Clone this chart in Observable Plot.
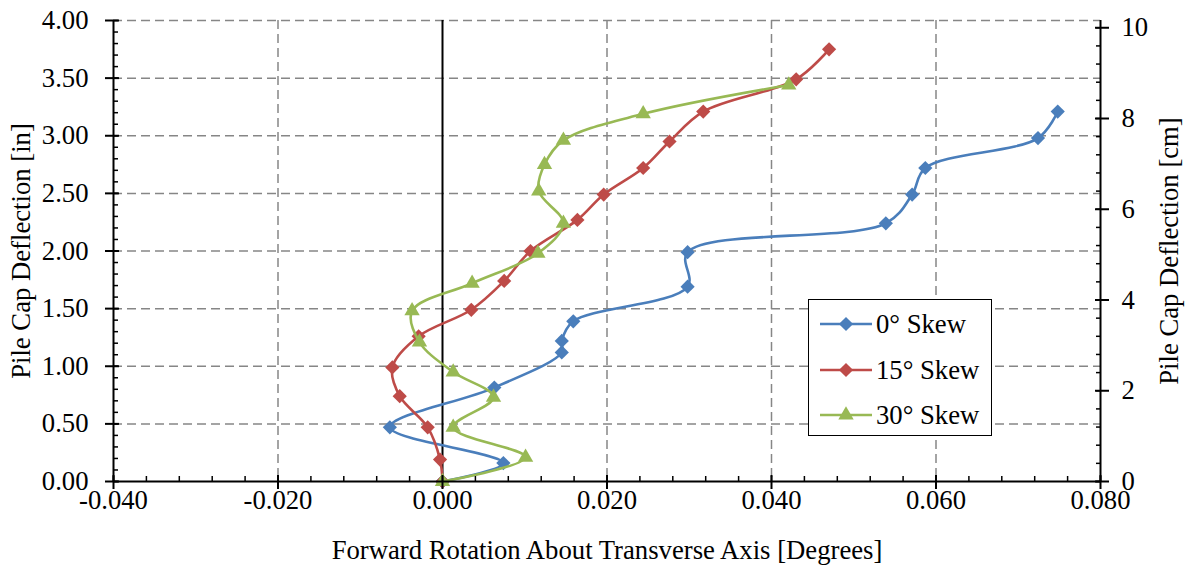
<!DOCTYPE html>
<html><head><meta charset="utf-8">
<script src="https://cdn.jsdelivr.net/npm/d3@7"></script>
<script src="https://cdn.jsdelivr.net/npm/@observablehq/plot@0.6"></script>
<style>
body{margin:0;background:#fff;}
#wrap{position:relative;width:1190px;height:569px;font-family:"Liberation Serif","Times New Roman","DejaVu Serif",serif;}
#wrap svg text{font-family:"Liberation Serif","Times New Roman","DejaVu Serif",serif !important;}
#legend{position:absolute;left:808px;top:299px;width:182px;height:135px;border:1.5px solid #000;background:#fff;box-sizing:content-box;}
.li{position:absolute;left:0;height:30px;display:flex;align-items:center;font-size:26.7px;color:#000;font-family:"Liberation Serif","Times New Roman","DejaVu Serif",serif;}
.li svg{margin-left:11px;margin-right:4px;}
</style></head><body><div id="wrap"></div>
<script>
// series names / colours / marker symbols
const seriesNames = ["0° Skew", "15° Skew", "30° Skew"];
const seriesColors = ["#4A7EBB", "#BE4B48", "#98B954"];
const seriesSymbols = ["diamond2", "diamond2", "triangle"];
const markerR = [6.4, 6.4, 5.7];

// 0° Skew: rotation [deg], deflection [in]
const rot0 = [0, 0.0074, -0.0064, 0.0063, 0.0145, 0.0145, 0.0159, 0.0298, 0.0298, 0.0539, 0.0571, 0.0587, 0.0724, 0.0748];
const def0 = [0, 0.16, 0.47, 0.815, 1.12, 1.22, 1.39, 1.69, 1.99, 2.24, 2.49, 2.72, 2.98, 3.21];
// 15° Skew
const rot15 = [0, -0.0003, -0.0018, -0.0052, -0.0061, -0.0029, 0.0035, 0.0075, 0.0107, 0.0164, 0.0196, 0.0244, 0.0276, 0.0317, 0.0430, 0.0470];
const def15 = [0, 0.19, 0.47, 0.74, 0.99, 1.26, 1.49, 1.74, 2.00, 2.27, 2.49, 2.72, 2.95, 3.21, 3.49, 3.75];
// 30° Skew
const rot30 = [0, 0.0101, 0.0013, 0.0062, 0.0013, -0.0028, -0.0037, 0.0036, 0.0116, 0.0147, 0.0117, 0.0124, 0.0147, 0.0244, 0.0421];
const def30 = [0, 0.21, 0.47, 0.73, 0.95, 1.21, 1.48, 1.72, 1.98, 2.24, 2.52, 2.75, 2.96, 3.19, 3.44];

// axis ticks
const xTicks = [-0.04, -0.02, 0, 0.02, 0.04, 0.06, 0.08];
const xTickLabels = ["-0.040", "-0.020", "0.000", "0.020", "0.040", "0.060", "0.080"];
const yTicks = [0, 0.5, 1, 1.5, 2, 2.5, 3, 3.5, 4];
const yTickLabels = ["0.00", "0.50", "1.00", "1.50", "2.00", "2.50", "3.00", "3.50", "4.00"];
const cmTicks = [0, 2, 4, 6, 8, 10];
const xGrid = [-0.02, 0.02, 0.04, 0.06];
const yGrid = [0.5, 1, 1.5, 2, 2.5, 3, 3.5, 4];
const xMinor = d3.range(0, 31).map(i => -0.04 + i * 0.004);
const yMinor = d3.range(0, 41).map(i => i * 0.1);
const cmMinor = d3.range(0, 26).map(i => i * 0.4);

const xs = [rot0, rot15, rot30], ys = [def0, def15, def30];
const data = seriesNames.map((s, k) => xs[k].map((v, i) => ({series: s, x: v, y: ys[k][i]})));

const fmtX = d => xTickLabels[xTicks.findIndex(t => Math.abs(t - d) < 1e-9)];
const fmtY = d => yTickLabels[yTicks.findIndex(t => Math.abs(t - d) < 1e-9)];
const CM = 2.54;

const seriesMarks = data.flatMap((d, k) => [
  Plot.line(d, {x: "x", y: "y", stroke: "series", strokeWidth: 2.6, curve: "catmull-rom"}),
  Plot.dot(d, {x: "x", y: "y", fill: "series", symbol: "series", r: markerR[k], stroke: null})
]);

const chart = Plot.plot({
  width: 1190, height: 569,
  marginLeft: 113, marginRight: 90, marginTop: 20, marginBottom: 88,
  style: {fontFamily: "'Liberation Serif', 'Times New Roman', 'DejaVu Serif', serif", fontSize: "26.7px", color: "#000", background: "#fff", overflow: "visible"},
  x: {domain: [-0.04, 0.08]},
  y: {domain: [0, 4]},
  color: {domain: seriesNames, range: seriesColors},
  symbol: {domain: seriesNames, range: seriesSymbols},
  marks: [
    Plot.gridY(yGrid, {stroke: "#868686", strokeOpacity: 1, strokeWidth: 1.5, strokeDasharray: "9,5"}),
    Plot.gridX(xGrid, {stroke: "#868686", strokeOpacity: 1, strokeWidth: 1.5, strokeDasharray: "9,5"}),
    Plot.ruleX([0], {stroke: "#000", strokeWidth: 2}),
    ...seriesMarks,
    Plot.ruleX([-0.04, 0.08], {stroke: "#000", strokeWidth: 2}),
    Plot.ruleY([0], {stroke: "#000", strokeWidth: 2}),
    // minor ticks (inside)
    Plot.axisX(xMinor, {anchor: "bottom", tickSize: 5, dy: -5, tickFormat: () => "", label: null, strokeWidth: 1.5}),
    Plot.axisY(yMinor, {anchor: "left", tickSize: 5, dx: 5, tickFormat: () => "", label: null, strokeWidth: 1.5}),
    Plot.axisY(cmMinor.map(c => c / CM), {anchor: "right", tickSize: 5, dx: -5, tickFormat: () => "", label: null, strokeWidth: 1.5}),
    // major ticks (crossing)
    Plot.axisX(xTicks, {anchor: "bottom", tickSize: 14, dy: -6, tickFormat: () => "", label: null, strokeWidth: 2}),
    Plot.axisY(yTicks, {anchor: "left", tickSize: 14, dx: 6, tickFormat: () => "", label: null, strokeWidth: 2}),
    Plot.axisY(cmTicks.map(c => c / CM), {anchor: "right", tickSize: 14, dx: -6, tickFormat: () => "", label: null, strokeWidth: 2}),
    // labels
    Plot.axisX(xTicks, {anchor: "bottom", tickSize: 0, tickPadding: 9, tickFormat: fmtX,
      label: "Forward Rotation About Transverse Axis [Degrees]", labelAnchor: "center", labelOffset: 77, labelArrow: "none"}),
    Plot.axisY(yTicks, {anchor: "left", tickSize: 0, tickPadding: 25, tickFormat: fmtY,
      label: "Pile Cap Deflection [in]", labelAnchor: "center", labelOffset: 102, labelArrow: "none"}),
    Plot.axisY(cmTicks.map(c => c / CM), {anchor: "right", tickSize: 0, tickPadding: 21, tickFormat: d => String(Math.round(d * CM)),
      label: "Pile Cap Deflection [cm]", labelAnchor: "center", labelOffset: 77, labelArrow: "none"})
  ]
});

const wrap = document.getElementById("wrap");
wrap.appendChild(chart);

// legend
const legend = document.createElement("div");
legend.id = "legend";
const rowTops = [9, 55, 100];
seriesNames.forEach((name, k) => {
  const row = document.createElement("div");
  row.className = "li";
  row.style.top = rowTops[k] + "px";
  const svg = d3.create("svg").attr("width", 52).attr("height", 30);
  svg.append("line").attr("x1", 0).attr("x2", 52).attr("y1", 15).attr("y2", 15)
    .attr("stroke", seriesColors[k]).attr("stroke-width", 2.6);
  const sym = seriesSymbols[k] === "triangle" ? d3.symbolTriangle : d3.symbolDiamond2;
  svg.append("path").attr("d", d3.symbol(sym, markerR[k] * markerR[k] * Math.PI)())
    .attr("transform", "translate(26,15)").attr("fill", seriesColors[k]);
  row.appendChild(svg.node());
  const t = document.createElement("span");
  t.textContent = name;
  row.appendChild(t);
  legend.appendChild(row);
});
wrap.appendChild(legend);
</script>
</body></html>
